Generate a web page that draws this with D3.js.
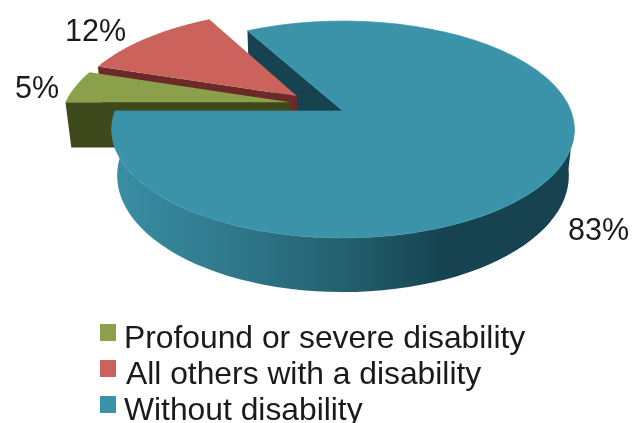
<!DOCTYPE html>
<html>
<head>
<meta charset="utf-8">
<script src="https://cdn.jsdelivr.net/npm/d3@7"></script>
<style>
  html, body { margin: 0; padding: 0; background: #fff; }
  svg { display: block; filter: blur(0.45px); }
  text { font-family: "Liberation Sans", Arial, sans-serif; fill: #1a1a1a; }
</style>
</head>
<body>
<div class="chart"></div>
<script>
var categories = ["Profound or severe disability", "All others with a disability", "Without disability"];
var values = [5, 12, 83];
var valueLabels = ["5%", "12%", "83%"];

var svgWidth = 632;
var svgHeight = 423;

var topColors = ["#8aa04a", "#cb625c", "#3a93a9"];
var wallColors = ["#3f4a1c", "#6b2a28", "#16434f"];

var svg = d3.select(".chart")
  .append("svg")
  .attr("width", svgWidth)
  .attr("height", svgHeight);

// gradient on the front wall of the big slice
var grad = svg.append("defs").append("linearGradient")
  .attr("id", "wallGrad")
  .attr("gradientUnits", "userSpaceOnUse")
  .attr("x1", 113).attr("x2", 574).attr("y1", 0).attr("y2", 0);
grad.append("stop").attr("offset", "0").attr("stop-color", "#3a8ea4");
grad.append("stop").attr("offset", "0.28").attr("stop-color", "#2e7689");
grad.append("stop").attr("offset", "0.5").attr("stop-color", "#24606f");
grad.append("stop").attr("offset", "0.72").attr("stop-color", "#16434f");
grad.append("stop").attr("offset", "1").attr("stop-color", "#16434f");

// perspective for the top and bottom plane of the disc
var topPlane = {x0: 343, y0: 111, b: 228, a: 105.3, k: 0.1705};
var bottomPlane = {x0: 343, y0: 157, b: 223, a: 113.6, k: 0.159};

function project(plane, u, v) {
  var w = 1 + plane.k * v;
  return [plane.x0 + plane.b * u / w, plane.y0 - plane.a * v / w];
}

var slices = d3.pie().sort(null).startAngle(-Math.PI / 2).endAngle(Math.PI * 1.5)(values);

// every slice is pulled out from the centre, big slice stays the origin
var explode = 0.127;
var bigMid = (slices[2].startAngle + slices[2].endAngle) / 2;
slices.forEach(function(s) {
  var mid = (s.startAngle + s.endAngle) / 2;
  s.du = explode * (Math.sin(mid) - Math.sin(bigMid));
  s.dv = explode * (Math.cos(mid) - Math.cos(bigMid));
});

function rimPoint(plane, s, angle) {
  return project(plane, s.du + Math.sin(angle), s.dv + Math.cos(angle));
}
function apex(plane, s) {
  return project(plane, s.du, s.dv);
}
function arcPoints(plane, s, from, to) {
  return d3.range(61).map(function(i) {
    return rimPoint(plane, s, from + (to - from) * i / 60);
  });
}

var line = d3.line();
function poly(points, fill) {
  return svg.append("path").attr("d", line(points) + "Z").attr("fill", fill);
}

// cut face that shows at the start of a slice
function cutWall(s, i) {
  poly([
    apex(topPlane, s),
    rimPoint(topPlane, s, s.startAngle),
    rimPoint(bottomPlane, s, s.startAngle),
    apex(bottomPlane, s)
  ], wallColors[i]);
}
function topFace(s, i) {
  var pts = [apex(topPlane, s)].concat(arcPoints(topPlane, s, s.startAngle, s.endAngle));
  return poly(pts, topColors[i]);
}

// back to front
cutWall(slices[2], 2);
cutWall(slices[1], 1);
topFace(slices[1], 1);
cutWall(slices[0], 0);
topFace(slices[0], 0);

// front wall of the big slice, from the right silhouette round to the left edge
var big = slices[2];
var wallFrom = 96 * Math.PI / 180;
var wallTo = big.endAngle;
var upper = arcPoints(topPlane, big, wallFrom, wallTo);
var lower = arcPoints(bottomPlane, big, wallFrom, wallTo).reverse();
poly(upper.concat(lower), "url(#wallGrad)");
// thin stroke closes the light seam between wall and top
topFace(big, 2).attr("stroke", topColors[2]).attr("stroke-width", 0.7);

// value labels
var labelPos = [[15, 98], [65, 41], [568, 240]];
svg.selectAll(".value-label")
  .data(valueLabels)
  .enter()
  .append("text")
  .attr("class", "value-label")
  .attr("x", (d, i) => labelPos[i][0])
  .attr("y", (d, i) => labelPos[i][1])
  .attr("font-size", 30.5)
  .text(d => d);

// legend
var legendY = d3.scalePoint().domain(categories).range([348, 420]);
var legendTextX = [124, 126, 124];

var legend = svg.selectAll(".legend")
  .data(categories)
  .enter()
  .append("g")
  .attr("class", "legend");

legend.append("rect")
  .attr("x", 100)
  .attr("y", d => legendY(d) - 24)
  .attr("width", 16)
  .attr("height", 17)
  .attr("fill", (d, i) => topColors[i]);

legend.append("text")
  .attr("x", (d, i) => legendTextX[i])
  .attr("y", d => legendY(d))
  .attr("font-size", 31.8)
  .text(d => d);
</script>
</body>
</html>
